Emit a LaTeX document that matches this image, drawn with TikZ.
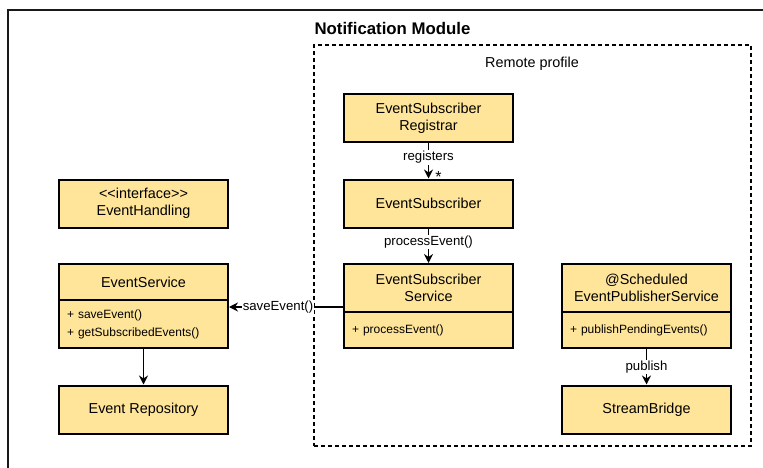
\documentclass[tikz,border=0pt]{standalone}
\usepackage{fontspec}
\setmainfont{Liberation Sans}
\usetikzlibrary{arrows.meta,calc}
\definecolor{boxfill}{HTML}{FFE599}
\begin{document}
\begin{tikzpicture}[x=1pt,y=-1pt,
  cls/.style={draw=black, line width=2pt, fill=boxfill, minimum width=169pt, minimum height=48pt, align=center, inner sep=0pt, font=\fontsize{14.4}{17.5}\selectfont},
  comp/.style={draw=black, line width=2pt, fill=boxfill, minimum width=169pt, inner sep=0pt, text width=153pt, align=left, font=\fontsize{12}{18}\selectfont},
  arr/.style={-{Stealth[length=9pt,width=9pt,inset=3pt]}, line width=1.3pt},
  lbl/.style={fill=white, inner sep=1pt, font=\fontsize{13.2}{15}\selectfont}]
\useasboundingbox (0,0) rectangle (763,468);
\clip (0,0) rectangle (763,468);
\fill[white] (0,0) rectangle (763,468);
% outer module frame
\node[draw=black!90, line width=2pt, minimum width=780pt, minimum height=490pt, inner sep=0pt, anchor=north west] (module) at (7,9) {};
\node[font=\bfseries\fontsize{16.8}{20}\selectfont] (title) at (392.5,28) {Notification Module};
% remote profile
\node[draw=black, dash pattern=on 4pt off 3pt, line width=1.1pt, minimum width=437pt, minimum height=401pt, inner sep=0pt] (remote) at (532.5,245.5) {};
\node[font=\fontsize{14.4}{17}\selectfont] (rlabel) at (532,64) {Remote profile};
% classes
\node[cls] (reg) at (428.5,118.5) {EventSubscriber\\Registrar};
\node[cls] (sub) at (428.5,203.5) {EventSubscriber};
\node[cls] (svcH) at (428.5,288) {EventSubscriber\\Service};
\node[comp, minimum height=36pt] (svcB) at (428.5,330) {+ processEvent()};
\node[cls] (eh) at (143.5,203.5) {{<}{<}interface{>}{>}\\EventHandling};
\node[cls, minimum height=36pt] (esH) at (143.5,282) {EventService};
\node[comp, minimum height=48pt] (esB) at (143.5,324) {+ saveEvent()\\+ getSubscribedEvents()};
\node[cls] (repo) at (143.5,409.5) {Event Repository};
\node[cls] (pubH) at (646.5,288) {@Scheduled\\EventPublisherService};
\node[comp, minimum height=36pt] (pubB) at (646.5,330) {+ publishPendingEvents()};
\node[cls] (sb) at (646.5,409.5) {StreamBridge};
% connectors
\draw[arr] (reg.south) -- node[lbl, pos=0.4] {registers} (sub.north);
\node[font=\fontsize{16}{18}\selectfont, inner sep=0pt] (star) at (438.5,177) {*};
\draw[arr] (sub.south) -- node[lbl, pos=0.4] {processEvent()} (svcH.north);
\draw[arr] ([yshift=6pt]svcH.south west) coordinate (s1) -- node[lbl, pos=0.57, inner sep=0.5pt] {saveEvent()} (s1 -| esB.east);
\draw[arr] (pubB.south) -- node[lbl, pos=0.5] {publish} (sb.north);
\draw[arr] (esB.south) -- (repo.north);
\end{tikzpicture}
\end{document}
